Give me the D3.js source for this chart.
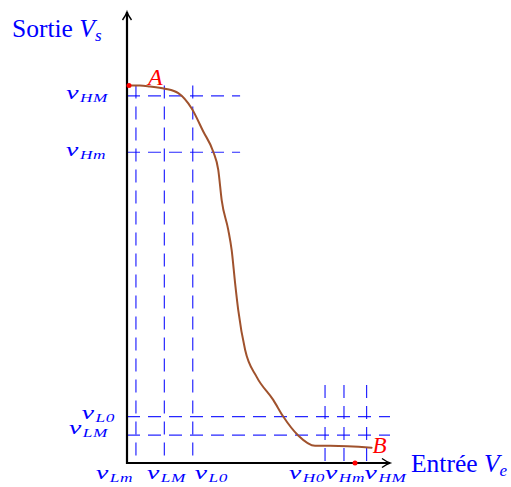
<!DOCTYPE html>
<html>
<head>
<meta charset="utf-8">
<script src="https://cdn.jsdelivr.net/npm/d3@7"></script>
<style>
  html, body { margin: 0; padding: 0; background: #fff; }
  svg { display: block; }
</style>
</head>
<body>
<script>
// Transfer characteristic of a logic inverter: output V_s versus input V_e.

// ---- data ----
const curveX = [0.076, 0.49, 0.87, 1.44, 1.95, 2.46, 2.90, 3.28, 3.47, 3.60, 3.85, 3.98, 4.11, 4.23, 4.49, 4.93, 5.56, 5.94, 6.51, 7.15, 7.72, 9.30];
const curveY = [8.37, 8.37, 8.35, 8.30, 8.20, 7.86, 7.35, 6.90, 6.50, 5.83, 5.17, 4.72, 3.99, 3.39, 2.51, 1.91, 1.40, 1.03, 0.61, 0.38, 0.38, 0.34];

const xTickNames  = ["Lm", "LM", "L0", "H0", "Hm", "HM"];
const xTickValues = [0.34, 1.42, 2.50, 7.53, 8.25, 9.11];

const yTickNames  = ["HM", "Hm", "L0", "LM"];
const yTickValues = [8.14, 6.89, 1.03, 0.62];

const pointNames = ["A", "B"];
const pointX = [0.076, 8.67];
const pointY = [8.37, 0];

// ---- layout ----
const W = 511, H = 487;
const x = d3.scaleLinear().domain([0, 10]).range([127, 390]);
const y = d3.scaleLinear().domain([0, 10]).range([463, 12]);

const BLUE = "#0000ff";
const SERIF = "'Liberation Serif', 'Times New Roman', serif";

const svg = d3.select("body").append("svg")
  .attr("width", W).attr("height", H)
  .attr("viewBox", `0 0 ${W} ${H}`);

// ---- dashed guide lines ----
const guides = svg.append("g")
  .attr("stroke", BLUE).attr("stroke-width", 1.2)
  .attr("stroke-dasharray", "13,8").attr("fill", "none")
  .attr("stroke-opacity", 0.85);

// low-input thresholds: guides run from the top level down to the axis
xTickValues.slice(0, 3).forEach(v => {
  guides.append("line")
    .attr("x1", x(v)).attr("x2", x(v))
    .attr("y1", y(pointY[0])).attr("y2", y(0));
});
// high-input thresholds: short guides near the axis
xTickValues.slice(3).forEach(v => {
  guides.append("line")
    .attr("x1", x(v)).attr("x2", x(v))
    .attr("y1", y(1.73)).attr("y2", y(0));
});
// high-output levels
yTickValues.slice(0, 2).forEach(v => {
  guides.append("line")
    .attr("x1", x(0)).attr("x2", x(4.3))
    .attr("y1", y(v)).attr("y2", y(v));
});
// low-output levels
yTickValues.slice(2).forEach(v => {
  guides.append("line")
    .attr("x1", x(0)).attr("x2", x(10))
    .attr("y1", y(v)).attr("y2", y(v));
});

// ---- axes with arrow tips ----
const axes = svg.append("g").attr("stroke", "#000").attr("fill", "none");
axes.append("line")
  .attr("x1", x(0)).attr("x2", x(0)).attr("y1", y(0) + 1).attr("y2", y(10))
  .attr("stroke-width", 2.2);
axes.append("line")
  .attr("x1", x(0) - 1).attr("x2", x(10)).attr("y1", y(0)).attr("y2", y(0))
  .attr("stroke-width", 2.2);
const tip = "M-4.5,-8 Q-1,-3 0,0 Q1,-3 4.5,-8";
axes.append("path").attr("d", tip)
  .attr("transform", `translate(${x(0)},${y(10)}) rotate(180)`)
  .attr("stroke-width", 1.4);
axes.append("path").attr("d", tip)
  .attr("transform", `translate(${x(10)},${y(0)}) rotate(-90)`)
  .attr("stroke-width", 1.4);

// ---- characteristic curve ----
const pts = curveX.map((v, i) => [v, curveY[i]]);
svg.append("path")
  .datum(pts)
  .attr("fill", "none")
  .attr("stroke", "#a0522d")
  .attr("stroke-width", 2)
  .attr("stroke-linecap", "round")
  .attr("d", d3.line().x(d => x(d[0])).y(d => y(d[1])).curve(d3.curveMonotoneX));

// ---- points A and B ----
svg.append("g").selectAll("circle")
  .data(pointNames)
  .join("circle")
  .attr("cx", (d, i) => x(pointX[i]))
  .attr("cy", (d, i) => y(pointY[i]))
  .attr("r", 2.5)
  .attr("fill", "#ff0000");

svg.append("text")
  .attr("x", x(pointX[0]) + 19).attr("y", y(pointY[0]) - 1)
  .attr("font-family", SERIF).attr("font-style", "italic")
  .attr("font-size", 24).attr("fill", "#ff0000")
  .text(pointNames[0]);
svg.append("text")
  .attr("x", x(curveX[curveX.length - 1]) + 1)
  .attr("y", y(curveY[curveY.length - 1]) + 5)
  .attr("font-family", SERIF).attr("font-style", "italic")
  .attr("font-size", 23).attr("fill", "#ff0000")
  .text(pointNames[1]);

// ---- tick labels v_{..} ----
function tickLabel(g, sub, anchor) {
  const t = g.append("text")
    .attr("text-anchor", anchor)
    .attr("font-family", SERIF).attr("font-style", "italic")
    .attr("fill", BLUE);
  t.append("tspan").attr("font-size", 18.5).text("v");
  t.append("tspan").attr("font-size", 11.5).attr("dx", 1).attr("dy", 3)
    .attr("letter-spacing", 0.4).text(sub);
}

const xAnchors = ["end", "middle", "start", "end", "middle", "start"];
const xShift = [-3, 2, 2, 0, 1, -2];
xTickNames.forEach((name, i) => {
  const g = svg.append("g")
    .attr("transform", `translate(${x(xTickValues[i]) + xShift[i]},${y(0) + 15.5}) scale(1.5,1)`);
  tickLabel(g, name, xAnchors[i]);
});

const yShift = [[0, 0], [-2, 0.5], [7, -1], [0, -4.5]];
yTickNames.forEach((name, i) => {
  const g = svg.append("g")
    .attr("transform", `translate(${108 + yShift[i][0]},${y(yTickValues[i]) + 3 + yShift[i][1]}) scale(1.5,1)`);
  tickLabel(g, name, "end");
});

// ---- axis titles ----
function axisTitle(px, py, word, sym, sub) {
  const t = svg.append("text")
    .attr("x", px).attr("y", py)
    .attr("font-family", SERIF).attr("font-size", 25.5)
    .attr("fill", BLUE);
  t.append("tspan").text(word + " ");
  t.append("tspan").attr("font-style", "italic").text(sym);
  t.append("tspan").attr("font-style", "italic").attr("font-size", 17).attr("dy", 4).text(sub);
}
axisTitle(12, 37, "Sortie", "V", "s");
axisTitle(411, 472, "Entrée", "V", "e");
</script>
</body>
</html>
